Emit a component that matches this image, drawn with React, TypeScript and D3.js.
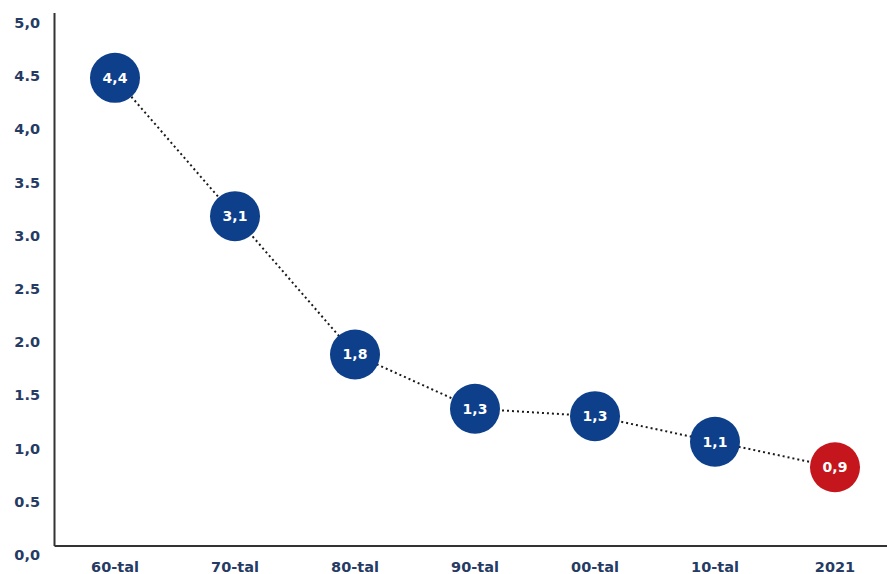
import React from "react";
import * as d3 from "d3";

const categories = ["60-tal", "70-tal", "80-tal", "90-tal", "00-tal", "10-tal", "2021"];
const values = [4.4, 3.1, 1.8, 1.29, 1.22, 0.98, 0.74];
const valueLabels = ["4,4", "3,1", "1,8", "1,3", "1,3", "1,1", "0,9"];
const yTicks = [0, 0.5, 1, 1.5, 2, 2.5, 3, 3.5, 4, 4.5, 5];
const yTickLabels = ["0,0", "0.5", "1,0", "1.5", "2.0", "2.5", "3.0", "3.5", "4,0", "4.5", "5,0"];

const W = 887;
const H = 574;
const BLUE = "#0d3f8b";
const RED = "#c4161c";
const NAVY = "#263b63";

export default function App() {
  const x = d3.scalePoint<string>().domain(categories).range([115, 835]);
  const y = d3.scaleLinear().domain([0, 5]).range([546, 14]);
  const line = d3
    .line<number>()
    .x((_, i) => x(categories[i]) as number)
    .y((d) => y(d));
  const font = "'DejaVu Sans', sans-serif";
  return (
    <svg
      width={W}
      height={H}
      style={{ position: "absolute", left: 0, top: 0, background: "#fff" }}
      fontFamily={font}
    >
      <line x1={54.5} x2={54.5} y1={y(5) - 1} y2={y(0)} stroke="#333" strokeWidth={2} />
      <line x1={54.5} x2={W} y1={y(0)} y2={y(0)} stroke="#333" strokeWidth={2} />
      {yTicks.map((t, i) => (
        <text
          key={t}
          x={40}
          y={y(t) + 9}
          textAnchor="end"
          dominantBaseline="central"
          fontSize={14.5}
          fontWeight={700}
          fill={NAVY}
        >
          {yTickLabels[i]}
        </text>
      ))}
      {categories.map((c) => (
        <text
          key={c}
          x={x(c)}
          y={567}
          textAnchor="middle"
          dominantBaseline="central"
          fontSize={14.5}
          fontWeight={700}
          fill={NAVY}
        >
          {c}
        </text>
      ))}
      <path
        d={line(values) || ""}
        fill="none"
        stroke="#1a1a1a"
        strokeWidth={2}
        strokeDasharray="2 3"
      />
      {values.map((v, i) => (
        <g key={i} transform={`translate(${x(categories[i])},${y(v)})`}>
          <circle r={25} fill={i === values.length - 1 ? RED : BLUE} />
          <text
            textAnchor="middle"
            dominantBaseline="central"
            fontSize={14}
            fontWeight={700}
            fill="#fff"
          >
            {valueLabels[i]}
          </text>
        </g>
      ))}
    </svg>
  );
}
